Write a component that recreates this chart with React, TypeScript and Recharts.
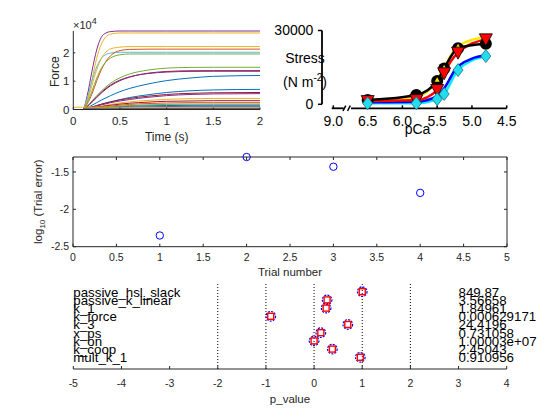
import React from 'react';
import {
  LineChart,
  Line,
  ComposedChart,
  Scatter,
  XAxis,
  YAxis,
  ReferenceLine,
} from 'recharts';

const FONT = '"Liberation Sans", Arial, Helvetica, sans-serif';
const INK = '#262626';

// --- top left: force transients ---
const forceTime = [0, 0.1, 0.15, 0.2, 0.25, 0.3, 0.35, 0.4, 0.5, 0.6, 0.8, 1.0, 1.25, 1.5, 2.0];
const forceColors = [
  '#7E2F8E', '#EDB120', '#4DBEEE', '#EDB120', '#D95319', '#77AC30',
  '#77AC30', '#A2142F', '#7E2F8E', '#0072BD', '#0072BD', '#A2142F',
  '#7E2F8E', '#EDB120', '#A2142F', '#D95319', '#77AC30', '#0072BD',
  '#7E2F8E', '#EDB120', '#4DBEEE', '#A2142F', '#77AC30', '#0072BD',
];
const forceTraces = [
  [0, 0, 5000, 13500, 21000, 25500, 27000, 27500, 27700, 27700, 27700, 27700, 27700, 27700, 27700],
  [0, 0, 3500, 10500, 18000, 23000, 25700, 26600, 27000, 27000, 27000, 27000, 27000, 27000, 27000],
  [0, 0, 4000, 10000, 15000, 18000, 19400, 19900, 20200, 20200, 20200, 20200, 20200, 20200, 20200],
  [0, 0, 3000, 8500, 14000, 18000, 20300, 21400, 22000, 22200, 22200, 22200, 22200, 22200, 22200],
  [0, 0, 2000, 5500, 10000, 14000, 17000, 19000, 20800, 21200, 21300, 21300, 21300, 21300, 21300],
  [0, 0, 2500, 6500, 11000, 14500, 16800, 18200, 19300, 19600, 19600, 19600, 19600, 19600, 19600],
  [0, 0, 1200, 3000, 4800, 6500, 8000, 9300, 11200, 12500, 13900, 14600, 14850, 14900, 14900],
  [0, 0, 1000, 2600, 4200, 5800, 7200, 8400, 10200, 11400, 12800, 13400, 13650, 13700, 13700],
  [0, 0, 1100, 2800, 4500, 6100, 7500, 8700, 10400, 11500, 12700, 13200, 13450, 13500, 13500],
  [0, 0, 600, 1500, 2400, 3300, 4100, 4900, 6300, 7400, 9000, 10200, 11100, 11700, 12000],
  [0, 0, 300, 800, 1300, 1800, 2300, 2700, 3500, 4200, 5200, 6000, 6600, 6900, 7100],
  [0, 0, 400, 900, 1400, 1900, 2300, 2700, 3400, 3900, 4700, 5300, 5700, 5900, 6000],
  [0, 0, 350, 800, 1200, 1600, 2000, 2400, 3000, 3500, 4300, 4900, 5300, 5500, 5600],
  [0, 0, 250, 600, 900, 1200, 1500, 1800, 2300, 2700, 3200, 3600, 3800, 3900, 3900],
  [0, 0, 200, 500, 800, 1000, 1300, 1500, 1900, 2200, 2600, 2900, 3000, 3100, 3100],
  [0, 0, 150, 400, 600, 800, 1000, 1200, 1500, 1800, 2100, 2300, 2400, 2400, 2400],
  [0, 0, 120, 300, 500, 650, 800, 950, 1200, 1400, 1650, 1800, 1900, 1900, 1900],
  [0, 0, 100, 250, 400, 520, 650, 750, 950, 1100, 1300, 1400, 1480, 1500, 1500],
  [0, 0, 80, 180, 300, 400, 500, 580, 720, 850, 980, 1050, 1100, 1100, 1100],
  [800, 800, 800, 800, 800, 800, 800, 800, 800, 800, 800, 800, 800, 800, 800],
  [0, 0, 50, 120, 200, 270, 330, 390, 460, 520, 570, 600, 600, 600, 600],
  [0, 0, 30, 70, 110, 160, 200, 230, 280, 310, 340, 350, 350, 350, 350],
  [0, 0, 10, 30, 50, 70, 90, 100, 120, 140, 150, 150, 150, 150, 150],
  [0, 0, 0, 10, 20, 30, 40, 50, 50, 50, 50, 50, 50, 50, 50],
];
const forceTicksX = [0, 0.5, 1, 1.5, 2];
const forceTicksY = [0, 10000, 20000];

// --- top right: stress-pCa ---
const stressPCa = [6.5, 5.8, 5.5, 5.4, 5.2, 4.8];
const stressBlack = [1750, 3800, 9500, 14600, 22800, 24600];
const stressRed = [1300, 1700, 5800, 12600, 21000, 26400];
const stressYellow = [1900, 3000, 10000, 15000, 23600, 27400];
const stressBlue = [800, 1000, 3300, 6500, 15500, 20000];
const stressCyan = [400, 400, 2100, 4200, 13900, 19600];
const pCaTickPos = [6.994, 6.5, 6.0, 5.5, 5.0, 4.5];
const pCaTickLabels = ['9.0', '6.5', '6.0', '5.5', '5.0', '4.5'];
const stressTicks = [0, 30000];

// --- middle: trial error ---
const trialNumber = [1, 2, 3, 4];
const trialLogError = [-2.35, -1.3, -1.43, -1.78];
const trialTicksX = [0, 0.5, 1, 1.5, 2, 2.5, 3, 3.5, 4, 4.5, 5];
const trialTicksY = [-2.5, -2, -1.5];

// --- bottom: parameters ---
const paramNames = ['passive_hsl_slack', 'passive_k_linear', 'k_1', 'k_force', 'k_3', 'x_ps', 'k_on', 'k_coop', 'mult_k_1'];
const paramP = [1.0, 0.27, 0.25, -0.9, 0.7, 0.14, 0.0, 0.38, 0.96];
const paramValues = ['849.87', '3.56658', '1.84961', '0.000629171', '24.4196', '0.731058', '1.00003e+07', '2.45043', '0.910956'];
const pTicks = [-5, -4, -3, -2, -1, 0, 1, 2, 3, 4];
const pGuides = [-2, -1, 0, 1, 2];

const forceRows = forceTime.map((t, i) => {
  const r: any = { t };
  forceTraces.forEach((tr, j) => (r['f' + j] = tr[i]));
  return r;
});

const stressRows = stressPCa.map((p, i) => ({
  pCa: p,
  black: stressBlack[i],
  red: stressRed[i],
  yellow: stressYellow[i],
  blue: stressBlue[i],
  cyan: stressCyan[i],
}));

const trialRows = trialNumber.map((n, i) => ({ x: n, y: trialLogError[i] }));

const circleRows = paramNames.map((n, i) => ({ x: paramP[i], y: paramNames.length - i, name: n }));
const squareRows = paramNames.map((n, i) => ({ x: paramP[i], y: paramNames.length - i, name: n }));
const nameRows = paramNames.map((n, i) => ({ x: -5, y: paramNames.length - i, label: n }));
const valueRows = paramValues.map((v, i) => ({ x: 3, y: paramNames.length - i, label: v }));

const smallTick = { fill: INK, fontSize: 10.5, fontFamily: FONT };
const inkLine = { stroke: INK, strokeWidth: 1 };
const S_MIN = -1626;

// axis pieces drawn through the chart scales
const seg = (a: number, b: number, c: number, d: number, k: string, color = INK, w = 1) => (
  <ReferenceLine
    key={k}
    segment={[{ x: a, y: b }, { x: c, y: d }]}
    stroke={color}
    strokeWidth={w}
    ifOverflow="visible"
  />
);

const blackDot = (p: any) => <circle key={'b' + p.index} cx={p.cx} cy={p.cy} r={6} fill="#000" />;
const redDot = (p: any) => (
  <polygon
    key={'r' + p.index}
    points={`${p.cx - 6.5},${p.cy - 5.5} ${p.cx + 6.5},${p.cy - 5.5} ${p.cx},${p.cy + 6.5}`}
    fill="#FF0000"
    stroke="#000"
    strokeWidth={0.8}
  />
);
const yellowDot = (p: any) => (
  <polygon
    key={'y' + p.index}
    points={`${p.cx - 2.5},${p.cy + 2} ${p.cx + 2.5},${p.cy + 2} ${p.cx},${p.cy - 2.5}`}
    fill="#FFE800"
  />
);
const cyanDot = (p: any) => (
  <polygon
    key={'c' + p.index}
    points={`${p.cx},${p.cy - 6.5} ${p.cx + 5},${p.cy} ${p.cx},${p.cy + 6.5} ${p.cx - 5},${p.cy}`}
    fill="#22DDEE"
    stroke="#1b6f80"
    strokeWidth={0.8}
  />
);

function ForcePanel() {
  return (
    <LineChart width={270} height={150} data={forceRows} margin={{ top: 31, right: 10, bottom: 20.5, left: 43.3 }}>
      <XAxis
        dataKey="t"
        type="number"
        domain={[0, 2]}
        ticks={forceTicksX}
        height={20}
        tickSize={-2}
        tickMargin={9.5}
        axisLine={inkLine}
        tickLine={inkLine}
        tick={{ fill: INK, fontSize: 11.5, fontFamily: FONT }}
      />
      <YAxis
        type="number"
        domain={[0, 27700]}
        ticks={forceTicksY}
        width={30}
        tickSize={-2}
        tickMargin={6}
        axisLine={inkLine}
        tickLine={inkLine}
        tickFormatter={(v: number) => String(v / 10000)}
        tick={{ fill: INK, fontSize: 11.5, fontFamily: FONT }}
      />
      {forceTraces.map((_tr, j) => (
        <Line
          key={j}
          dataKey={'f' + j}
          type="monotone"
          stroke={forceColors[j]}
          strokeWidth={1}
          dot={false}
          isAnimationActive={false}
        />
      ))}
    </LineChart>
  );
}

function StressPanel() {
  return (
    <ComposedChart width={290} height={150} data={stressRows} margin={{ top: 30.5, right: 53.3, bottom: 21.7, left: 12 }}>
      <XAxis
        dataKey="pCa"
        type="number"
        domain={[4.5, 7.157]}
        reversed
        ticks={pCaTickPos}
        tickFormatter={(v: number) => pCaTickLabels[pCaTickPos.indexOf(v)] ?? ''}
        axisLine={false}
        tickLine={false}
        height={20}
        tickSize={-3}
        tickMargin={10.4}
        tick={{ fill: '#000', fontSize: 14, fontFamily: FONT }}
      />
      <YAxis
        type="number"
        domain={[S_MIN, 30000]}
        ticks={stressTicks}
        axisLine={false}
        tickLine={false}
        width={40}
        tickSize={4}
        tickMargin={4.7}
        tick={{ fill: '#000', fontSize: 14, fontFamily: FONT }}
      />
      {seg(7.157, 0, 7.157, 30000, 'yaxis', '#000', 1.8)}
      {stressTicks.map((v) => seg(7.215, v, 7.157, v, 'yt' + v, '#000', 1.5))}
      {seg(7.017, S_MIN, 6.845, S_MIN, 'x1', '#000', 1.8)}
      {seg(6.74, S_MIN, 4.5, S_MIN, 'x2', '#000', 1.8)}
      {seg(6.855, S_MIN - 1100, 6.815, S_MIN + 1100, 's1', '#000', 1.5)}
      {seg(6.79, S_MIN - 1100, 6.75, S_MIN + 1100, 's2', '#000', 1.5)}
      {pCaTickPos.map((v) => seg(v, S_MIN, v, S_MIN + 1200, 'xt' + v, '#000', 1.5))}
      <Line dataKey="cyan" type="monotone" stroke="#00F0FF" strokeWidth={2.5} dot={false} isAnimationActive={false} />
      <Line dataKey="blue" type="monotone" stroke="#0000FF" strokeWidth={2.5} dot={false} isAnimationActive={false} />
      <Line dataKey="yellow" type="monotone" stroke="#FFE800" strokeWidth={2.5} dot={false} isAnimationActive={false} />
      <Line dataKey="red" type="monotone" stroke="#FF0000" strokeWidth={2.5} dot={false} isAnimationActive={false} />
      <Line dataKey="black" type="monotone" stroke="#000" strokeWidth={2.5} dot={false} isAnimationActive={false} />
      <Line dataKey="black" stroke="none" dot={blackDot} isAnimationActive={false} />
      <Line dataKey="yellow" stroke="none" dot={yellowDot} isAnimationActive={false} />
      <Line dataKey="red" stroke="none" dot={redDot} isAnimationActive={false} />
      <Line dataKey="cyan" stroke="none" dot={cyanDot} isAnimationActive={false} />
    </ComposedChart>
  );
}

function TrialPanel() {
  const yLo = -2.5;
  const yHi = -1.3;
  const dx = 0.035;
  const dy = 0.04;
  return (
    <ComposedChart width={560} height={130} data={trialRows} margin={{ top: 12, right: 53, bottom: 8.3, left: 43 }}>
      <XAxis
        dataKey="x"
        type="number"
        domain={[0, 5]}
        ticks={trialTicksX}
        height={20}
        tickSize={-3}
        tickMargin={9.5}
        axisLine={inkLine}
        tickLine={inkLine}
        tick={smallTick}
      />
      <YAxis
        dataKey="y"
        type="number"
        domain={[yLo, yHi]}
        ticks={trialTicksY}
        width={30}
        tickSize={-3}
        tickMargin={7}
        axisLine={inkLine}
        tickLine={inkLine}
        tick={smallTick}
      />
      {seg(0, yHi, 5, yHi, 'top')}
      {seg(5, yLo, 5, yHi, 'right')}
      {trialTicksX.map((t) => seg(t, yHi, t, yHi - dy, 'tt' + t))}
      {trialTicksY.map((t) => seg(5, t, 5 - dx, t, 'tr' + t))}
      <Scatter
        dataKey="y"
        isAnimationActive={false}
        shape={(p: any) => <circle cx={p.cx} cy={p.cy} r={3.7} fill="none" stroke="#0000FF" strokeWidth={1} />}
      />
    </ComposedChart>
  );
}

function ParamPanel() {
  const textShape = (p: any) => (
    <text x={p.cx} y={p.cy + 5} fontSize={13.3} fontFamily={FONT} fill="#000">
      {p.payload.label}
    </text>
  );
  return (
    <ComposedChart width={560} height={142} data={circleRows} margin={{ top: 5.5, right: 53.3, bottom: 31, left: 73.3 }}>
      <XAxis
        dataKey="x"
        type="number"
        domain={[-5, 4]}
        ticks={pTicks}
        height={20}
        tickSize={-3}
        tickMargin={13.5}
        axisLine={inkLine}
        tickLine={inkLine}
        tick={smallTick}
      />
      <YAxis dataKey="y" type="number" domain={[-0.43, 10]} hide />
      {pGuides.map((g) => (
        <ReferenceLine key={g} x={g} stroke="#000" strokeWidth={1} strokeDasharray="1 2" />
      ))}
      <Scatter data={nameRows} dataKey="y" isAnimationActive={false} shape={textShape} />
      <Scatter data={valueRows} dataKey="y" isAnimationActive={false} shape={textShape} />
      <Scatter
        data={circleRows}
        dataKey="y"
        isAnimationActive={false}
        shape={(p: any) => <circle cx={p.cx} cy={p.cy} r={4.8} fill="none" stroke="#0000FF" strokeWidth={1.2} strokeDasharray="2 1.2" />}
      />
      <Scatter
        data={squareRows}
        dataKey="y"
        isAnimationActive={false}
        shape={(p: any) => (
          <rect x={p.cx - 3} y={p.cy - 3} width={6} height={6} fill="none" stroke="#FF0000" strokeWidth={1.4} />
        )}
      />
    </ComposedChart>
  );
}

const at = (left: number, top: number): React.CSSProperties => ({ position: 'absolute', left, top });

export default function App() {
  return (
    <div style={{ position: 'absolute', left: 0, top: 0, width: 560, height: 420, background: '#fff', fontFamily: FONT }}>
      <div style={at(0, 0)}><ForcePanel /></div>
      <div style={at(270, 0)}><StressPanel /></div>
      <div style={at(0, 145)}><TrialPanel /></div>
      <div style={at(0, 278)}><ParamPanel /></div>
      <svg style={{ ...at(0, 0), pointerEvents: 'none' }} width={560} height={420} fontFamily={FONT}>
        <text x={73} y={28.5} fontSize={11} fill={INK}>
          ×10<tspan dy={-4.5} fontSize={9}>4</tspan>
        </text>
        <text transform="translate(59,71.7) rotate(-90)" textAnchor="middle" fontSize={12} fill={INK}>Force</text>
        <text x={166.7} y={141} textAnchor="middle" fontSize={12} fill={INK}>Time (s)</text>
        <text x={305} y={62.7} textAnchor="middle" fontSize={14} fill="#000">Stress</text>
        <text x={305} y={86.7} textAnchor="middle" fontSize={14} fill="#000">
          (N m<tspan dy={-6} fontSize={10}>-2</tspan><tspan dy={6}>)</tspan>
        </text>
        <text x={417.5} y={133.5} textAnchor="middle" fontSize={14} fill="#000">pCa</text>
        <text x={290} y={276} textAnchor="middle" fontSize={11.5} fill={INK}>Trial number</text>
        <text transform="translate(42,201.7) rotate(-90)" textAnchor="middle" fontSize={11.5} fill={INK}>
          log<tspan dy={3} fontSize={8}>10</tspan><tspan dy={-3}> (Trial error)</tspan>
        </text>
        <text x={290} y={402.5} textAnchor="middle" fontSize={11.5} fill={INK}>p_value</text>
      </svg>
    </div>
  );
}
